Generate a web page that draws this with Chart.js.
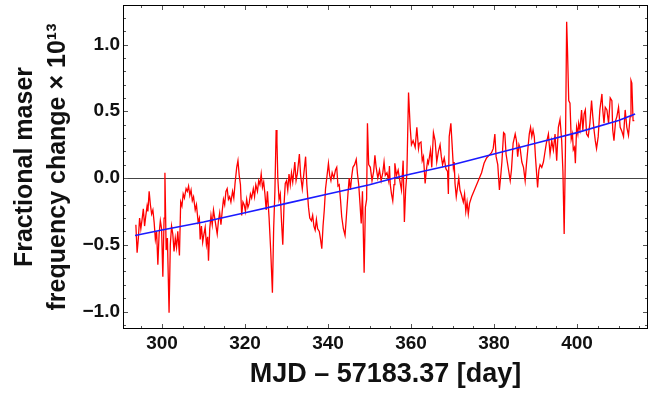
<!DOCTYPE html>
<html><head><meta charset="utf-8">
<script src="https://cdn.jsdelivr.net/npm/chart.js@4"></script>
<style>html,body{margin:0;padding:0;background:#fff;}</style>
</head><body>
<canvas id="c" width="668" height="394"></canvas>
<script>
// Measured series: day (MJD - 57183.37) and fractional maser frequency change (x 1e-13)
const maserDays = [
293.7,294.0,294.3,294.6,294.9,295.2,295.5,295.8,296.1,296.4,296.6,296.9,297.2,297.5,297.8,298.1,298.4,298.7,299.0,299.3,299.6,299.9,
300.2,300.5,300.7,301.0,301.3,301.7,302.0,302.3,302.6,302.9,303.2,303.5,303.8,304.2,304.5,304.8,305.1,305.4,305.8,306.1,306.4,306.7,
307.0,307.3,307.6,308.0,308.3,308.7,309.0,309.2,309.5,309.8,310.1,310.4,310.7,311.0,311.2,311.5,311.8,312.1,312.4,312.7,313.0,313.3,
313.6,313.9,314.2,314.5,314.8,315.1,315.4,315.7,316.0,316.3,316.6,317.0,317.3,317.6,318.0,318.3,318.6,318.9,319.2,319.5,319.8,320.1,
320.4,320.7,321.0,321.3,321.6,322.0,322.3,322.6,323.0,323.3,323.6,323.9,324.2,324.5,324.8,325.1,325.4,325.8,326.2,326.6,326.9,327.2,
327.5,327.7,327.9,328.2,328.5,328.8,329.1,329.4,329.7,330.0,330.3,330.6,330.9,331.2,331.5,332.0,332.3,332.6,333.1,333.4,333.8,334.2,
334.6,334.9,335.3,335.6,336.0,336.3,336.6,336.9,337.2,337.5,337.9,338.2,338.5,338.8,339.1,339.4,339.7,340.1,340.4,340.7,341.0,341.4,
341.8,342.1,342.4,342.7,343.0,343.3,343.7,344.1,344.4,344.8,345.1,345.4,345.7,346.0,346.4,346.8,347.1,347.4,347.7,348.0,348.3,348.7,
349.0,349.3,349.5,349.8,350.2,350.6,351.0,351.3,351.6,352.0,352.4,352.8,353.2,353.5,353.8,354.2,354.6,354.8,355.0,355.3,355.6,355.9,
356.1,356.5,356.9,357.3,357.7,358.1,358.4,358.7,359.0,359.4,359.8,360.1,360.5,361.0,361.4,361.8,362.0,362.4,362.7,363.0,363.4,363.7,
364.0,364.2,364.7,365.0,365.4,365.8,366.2,366.6,367.0,367.3,367.6,368.0,368.4,368.8,369.0,369.2,369.6,369.9,370.2,370.4,370.6,370.9,
371.2,371.5,371.8,372.1,372.6,372.9,373.2,373.5,373.8,374.1,374.6,375.4,376.2,377.0,377.6,378.2,378.8,379.4,379.8,380.2,380.5,380.9,
381.3,381.6,381.9,382.3,382.6,382.9,383.2,383.5,383.9,384.2,384.6,385.1,385.4,385.7,386.0,386.3,386.7,387.1,387.5,387.8,388.1,388.5,
388.8,389.1,389.4,389.7,390.0,390.5,390.8,391.1,391.5,391.9,392.2,392.6,393.1,393.5,393.9,394.3,394.7,395.1,395.5,395.9,396.3,396.6,
396.9,397.2,397.5,397.7,398.0,398.3,398.6,398.9,399.1,399.4,399.6,399.9,400.2,400.4,400.7,401.1,401.4,401.7,402.0,402.3,402.7,403.1,
403.5,403.8,404.1,404.4,404.7,405.1,405.5,406.0,406.2,406.5,406.8,407.2,407.6,408.0,408.4,408.6,408.9,409.3,409.6,410.0,410.4,410.8,
411.2,411.6,412.0,412.4,412.8,413.0,413.2,413.5,413.8
];
const maserShift = [
-0.35,-0.56,-0.45,-0.30,-0.38,-0.31,-0.23,-0.36,-0.28,-0.21,-0.25,-0.10,-0.20,-0.27,-0.24,-0.33,-0.46,-0.40,-0.65,-0.42,-0.32,-0.38,
-0.74,-0.30,0.04,-0.54,-0.45,-1.01,-0.50,-0.36,-0.42,-0.55,-0.45,-0.52,-0.40,-0.58,-0.18,-0.21,-0.12,-0.15,-0.08,-0.10,-0.06,-0.13,
-0.09,-0.17,-0.14,-0.24,-0.20,-0.33,-0.30,-0.46,-0.36,-0.48,-0.42,-0.37,-0.50,-0.44,-0.62,-0.38,-0.28,-0.35,-0.24,-0.30,-0.36,-0.42,
-0.32,-0.26,-0.35,-0.25,-0.16,-0.20,-0.10,-0.08,-0.16,-0.14,-0.18,-0.10,-0.15,-0.04,0.08,0.13,0.02,-0.05,-0.28,-0.18,-0.20,-0.25,
-0.16,-0.22,-0.19,-0.12,-0.15,-0.08,-0.14,-0.05,-0.10,-0.02,-0.05,0.03,-0.07,-0.03,-0.12,-0.24,-0.10,-0.30,-0.55,-0.86,-0.38,-0.10,
0.36,0.27,0.00,-0.16,-0.12,-0.33,-0.50,-0.20,-0.04,-0.02,-0.09,0.03,-0.05,0.04,-0.03,0.12,-0.02,0.03,0.18,0.02,-0.08,0.04,
0.16,-0.05,-0.22,-0.30,-0.32,-0.28,-0.36,-0.39,-0.31,-0.38,-0.40,-0.46,-0.53,-0.36,-0.24,-0.08,0.00,0.11,0.02,-0.02,0.04,0.00,
0.06,0.08,-0.06,-0.05,-0.16,-0.29,-0.38,-0.43,-0.30,-0.12,0.00,-0.09,0.01,0.08,0.10,0.14,0.03,-0.05,-0.19,-0.34,-0.10,-0.71,
-0.22,-0.16,0.41,0.10,0.08,-0.02,0.05,0.17,0.08,0.00,0.06,-0.02,0.04,0.12,0.02,0.04,-0.02,0.09,-0.05,-0.12,-0.17,-0.05,
0.11,0.02,0.06,-0.02,-0.09,0.13,-0.33,-0.09,0.03,0.64,0.38,0.25,0.28,0.23,0.38,0.22,0.26,0.27,0.13,0.16,-0.04,0.06,
0.13,0.11,0.21,0.08,0.34,0.28,0.12,0.20,0.25,0.16,0.10,0.15,0.07,0.05,-0.12,0.31,0.41,0.25,0.08,0.12,-0.04,-0.14,
-0.07,0.00,-0.09,-0.12,-0.18,-0.12,-0.25,-0.18,-0.27,-0.19,-0.14,-0.08,-0.02,0.04,0.11,0.15,0.17,0.19,0.22,0.33,0.16,0.10,
-0.09,0.01,0.12,0.34,0.33,0.18,0.12,0.06,-0.02,0.06,0.26,0.33,0.28,0.16,0.25,0.22,0.12,0.08,-0.02,0.10,0.20,0.33,
0.38,0.31,0.36,0.31,0.15,-0.07,0.06,0.10,0.08,0.12,0.18,0.26,0.33,0.18,0.28,0.21,0.33,0.13,0.38,0.44,0.28,0.05,
-0.42,0.20,1.17,0.96,0.58,0.56,0.29,0.33,0.21,0.23,0.11,0.38,0.33,0.41,0.36,0.51,0.36,0.48,0.51,0.33,0.31,0.41,
0.58,0.46,0.36,0.28,0.22,0.31,0.51,0.63,0.51,0.41,0.53,0.51,0.41,0.60,0.58,0.36,0.28,0.43,0.46,0.53,0.38,0.35,
0.31,0.51,0.38,0.32,0.46,0.73,0.71,0.43,0.43
];
// Fitted trend (blue)
const fitDays  = [293.5, 300, 310, 320, 330, 340, 350, 356, 360, 370, 380, 390, 400, 410, 414];
const fitShift = [-0.43, -0.39, -0.33, -0.26, -0.19, -0.12, -0.05, 0.0, 0.03, 0.10, 0.18, 0.26, 0.34, 0.43, 0.48];
// Axes
const xTickValues = [300, 320, 340, 360, 380, 400];
const yTickValues = [-1.0, -0.5, 0.0, 0.5, 1.0];
const xLimits = [290.6, 417.1];
const yLimits = [-1.131, 1.296];

const FONT = "'Liberation Sans', Arial, Helvetica, sans-serif";

const framePlugin = {
  id: 'frameTicks',
  afterDraw(chart) {
    const {ctx, chartArea: a, scales: {x, y}} = chart;
    ctx.save();
    ctx.lineWidth = 1;
    ctx.strokeStyle = '#555';
    ctx.beginPath();
    for (let k = Math.ceil(x.min / 5); k * 5 <= x.max; k++) {
      const v = k * 5;
      const px = Math.round(x.getPixelForValue(v)) + 0.5;
      const len = (v % 20 === 0) ? 5 : 3;
      ctx.moveTo(px, a.bottom); ctx.lineTo(px, a.bottom - len);
      ctx.moveTo(px, a.top); ctx.lineTo(px, a.top + len);
    }
    for (let k = Math.ceil(y.min * 10); k <= Math.floor(y.max * 10); k++) {
      const py = Math.round(y.getPixelForValue(k / 10)) + 0.5;
      const len = (k % 5 === 0) ? 5 : 3;
      ctx.moveTo(a.left, py); ctx.lineTo(a.left + len, py);
      ctx.moveTo(a.right, py); ctx.lineTo(a.right - len, py);
    }
    ctx.stroke();
    ctx.strokeStyle = '#000';
    ctx.strokeRect(Math.round(a.left) + 0.5, Math.round(a.top) + 0.5,
                   Math.round(a.right - a.left) - 1, Math.round(a.bottom - a.top) - 1);
    ctx.restore();
  }
};

new Chart(document.getElementById('c'), {
  type: 'line',
  data: {
    datasets: [
      {
        label: 'fit',
        data: fitDays.map((d, i) => ({x: d, y: fitShift[i]})),
        borderColor: '#1a1aff',
        borderWidth: 1.6,
        pointRadius: 0,
        tension: 0
      },
      {
        label: 'maser',
        data: maserDays.map((d, i) => ({x: d, y: maserShift[i]})),
        borderColor: '#ff0000',
        borderWidth: 1.3,
        pointRadius: 0,
        tension: 0
      }
    ]
  },
  options: {
    responsive: false,
    animation: false,
    devicePixelRatio: 1,
    layout: {padding: {top: 5, right: 20, left: 0, bottom: 0}},
    plugins: {legend: {display: false}, tooltip: {enabled: false}},
    scales: {
      x: {
        type: 'linear',
        min: xLimits[0], max: xLimits[1],
        afterBuildTicks: s => { s.ticks = xTickValues.map(v => ({value: v})); },
        afterFit: s => { s.height = 65; s.paddingLeft = 0; s.paddingRight = 0; },
        grid: {display: false, drawTicks: false, tickLength: 0},
        border: {display: false},
        ticks: {
          autoSkip: false, maxRotation: 0, padding: 3, color: '#111',
          font: {family: FONT, size: 19, weight: 'bold'},
          callback: v => String(v)
        },
        title: {
          display: true, text: 'MJD \u2013 57183.37 [day]', color: '#111',
          font: {family: FONT, size: 27, weight: 'bold', lineHeight: 1.2},
          padding: {top: 0, bottom: 3}
        }
      },
      y: {
        type: 'linear',
        min: yLimits[0], max: yLimits[1],
        afterBuildTicks: s => { s.ticks = yTickValues.map(v => ({value: v})); },
        afterFit: s => { s.width = 123; s.paddingTop = 0; s.paddingBottom = 0; },
        grid: {
          drawTicks: false, tickLength: 0, lineWidth: 1,
          color: c => (c.tick && c.tick.value === 0) ? '#444' : 'rgba(0,0,0,0)'
        },
        border: {display: false},
        ticks: {
          padding: 3, color: '#111',
          font: {family: FONT, size: 19, weight: 'bold'},
          callback: v => (v < 0 ? '\u2212' : '') + Math.abs(v).toFixed(1)
        },
        title: {
          display: true,
          text: ['Fractional maser', 'frequency change \u00d7 10\u00b9\u00b3'],
          color: '#111',
          font: {family: FONT, size: 25, weight: 'bold', lineHeight: 1.3},
          padding: {top: 9, bottom: 0}
        }
      }
    }
  },
  plugins: [framePlugin]
});
</script>
</body></html>
